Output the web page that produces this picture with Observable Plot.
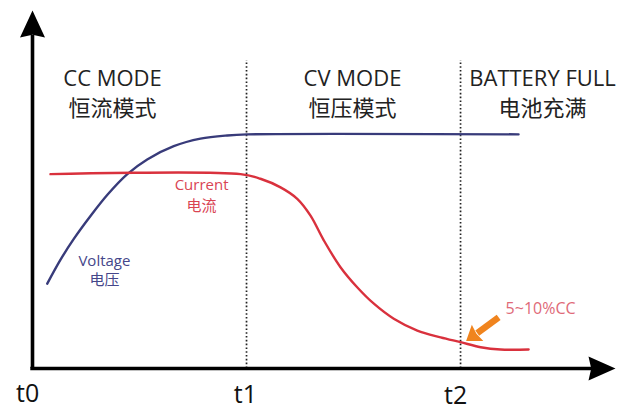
<!DOCTYPE html>
<html>
<head>
<meta charset="utf-8">
<script src="https://cdn.jsdelivr.net/npm/d3@7"></script>
<script src="https://cdn.jsdelivr.net/npm/@observablehq/plot@0.6"></script>
<style>
  html, body { margin: 0; padding: 0; background: #fff; }
  svg { display: block; }
</style>
</head>
<body>
<script>
// ---- data ----
const tickValues = [0, 1, 2];
const tickLabels = ["t0", "t1", "t2"];

const modeX = [0.374, 1.495, 2.383];
const modesEn = ["CC MODE", "CV MODE", "BATTERY FULL"];
const modesZh = ["恒流模式", "恒压模式", "电池充满"];

const voltageT = [0.069, 0.131, 0.193, 0.271, 0.351, 0.443, 0.536, 0.660, 0.785, 0.910, 1.003, 2.271];
const voltageV = [23.7, 30.4, 36.2, 42.6, 48.6, 54.3, 58.4, 62.1, 64.2, 65.1, 65.4, 65.4];

const currentT = [0.084, 0.972, 1.065, 1.159, 1.237, 1.299, 1.361, 1.439, 1.517, 1.595, 1.688, 1.798, 1.907, 2.0, 2.094, 2.187, 2.318];
const currentI = [54.3, 54.3, 53.0, 50.6, 47.4, 42.7, 35.8, 28.3, 22.7, 18.1, 13.9, 10.6, 8.7, 7.35, 5.95, 5.3, 5.3];

const phaseMarks = [1, 2];
const xMax = 2.724, yMax = 100;

// annotation positions (data units)
const seriesLabelsEn = ["Current", "Voltage"];
const seriesLabelsZh = ["电流", "电压"];
const seriesLabelX = [0.79, 0.336];
const seriesLabelYEn = [51.1, 30.1];
const seriesLabelYZh = [45.4, 24.6];
const noteText = ["5~10%CC"];
const noteX = [2.374], noteY = [16.6];
const pointerTail = [2.178, 14.3], pointerBase = [2.078, 9.9], pointerTip = [2.026, 7.7];

// ---- styles ----
const navy = "#383b7a";
const red = "#d9313d";
const orange = "#f0841e";

function headSymbol(len, half, deg) {
  const a = deg * Math.PI / 180, c = Math.cos(a), s = Math.sin(a);
  const rot = ([x, y]) => [x * c - y * s, x * s + y * c];
  const pts = [[0, 0], [half, len], [0, len * 0.9], [-half, len]].map(rot);
  return {
    draw(ctx) {
      ctx.moveTo(...pts[0]);
      for (let i = 1; i < pts.length; ++i) ctx.lineTo(...pts[i]);
      ctx.closePath();
    }
  };
}

const chart = Plot.plot({
  width: 617,
  height: 410,
  marginLeft: 32,
  marginRight: 2,
  marginTop: 10,
  marginBottom: 42,
  x: { domain: [0, xMax], axis: null },
  y: { domain: [0, yMax], axis: null },
  style: { background: "#fff", overflow: "visible", fontFamily: "'Open Sans', 'Noto Sans CJK SC', sans-serif" },
  marks: [
    // dotted phase lines
    Plot.ruleX(phaseMarks, { y1: 0, y2: 86, stroke: "#222", strokeWidth: 1.7, strokeDasharray: "1.6,2.2" }),
    // curves
    Plot.line(voltageT, { x: d => d, y: (d, i) => voltageV[i], stroke: navy, strokeWidth: 2.4, curve: "catmull-rom" }),
    Plot.line(currentT, { x: d => d, y: (d, i) => currentI[i], stroke: red, strokeWidth: 2.4, curve: "catmull-rom" }),
    // axes
    Plot.ruleY([0], { x1: -0.008, x2: 2.63, stroke: "#000", strokeWidth: 3.6 }),
    Plot.ruleX([0], { y1: 0, y2: 93, stroke: "#000", strokeWidth: 3.6 }),
    Plot.dot([0], { x: 0, y: () => yMax, symbol: headSymbol(27, 12.5, 0), fill: "#000", stroke: "none" }),
    Plot.dot([0], { x: () => xMax, y: 0, symbol: headSymbol(27, 12, 90), fill: "#000", stroke: "none" }),
    // tick labels
    Plot.text(tickLabels, { x: (d, i) => tickValues[i] + [-0.023, -0.005, -0.023][i], y: (d, i) => [-7.0, -7.3, -7.6][i], text: d => d, fontSize: 25, fill: "#111", lineAnchor: "middle" }),
    // mode headers
    Plot.text(modesEn, { x: (d, i) => modeX[i], y: () => 80.8, text: d => d, fontSize: 22, fill: "#222", fontFamily: "'Open Sans', sans-serif", lineAnchor: "middle" }),
    Plot.text(modesZh, { x: (d, i) => modeX[i], y: () => 72.5, text: d => d, fontSize: 22, fill: "#222", fontFamily: "'Noto Sans CJK SC', sans-serif", lineAnchor: "middle" }),
    // series labels
    Plot.text(seriesLabelsEn, { x: (d, i) => seriesLabelX[i], y: (d, i) => seriesLabelYEn[i], text: d => d, fontSize: 15, fill: (d, i) => i === 0 ? "#d94453" : "#45468a", fontFamily: "'Open Sans', sans-serif", lineAnchor: "middle" }),
    Plot.text(seriesLabelsZh, { x: (d, i) => seriesLabelX[i], y: (d, i) => seriesLabelYZh[i], text: d => d, fontSize: 15, fill: (d, i) => i === 0 ? "#d94453" : "#45468a", fontFamily: "'Noto Sans CJK SC', sans-serif", lineAnchor: "middle" }),
    // 5~10%CC note and pointer
    Plot.text(noteText, { x: (d, i) => noteX[i], y: (d, i) => noteY[i], text: d => d, fontSize: 16, fill: "#e06a78", fontFamily: "'Open Sans', sans-serif", lineAnchor: "middle" }),
    Plot.line([pointerTail, pointerBase], { x: d => d[0], y: d => d[1], stroke: orange, strokeWidth: 6.5, strokeLinecap: "butt" }),
    Plot.dot([pointerTip], { x: d => d[0], y: d => d[1], symbol: headSymbol(14, 10, 235), fill: orange, stroke: "none" })
  ]
});
document.body.appendChild(chart);
</script>
</body>
</html>
